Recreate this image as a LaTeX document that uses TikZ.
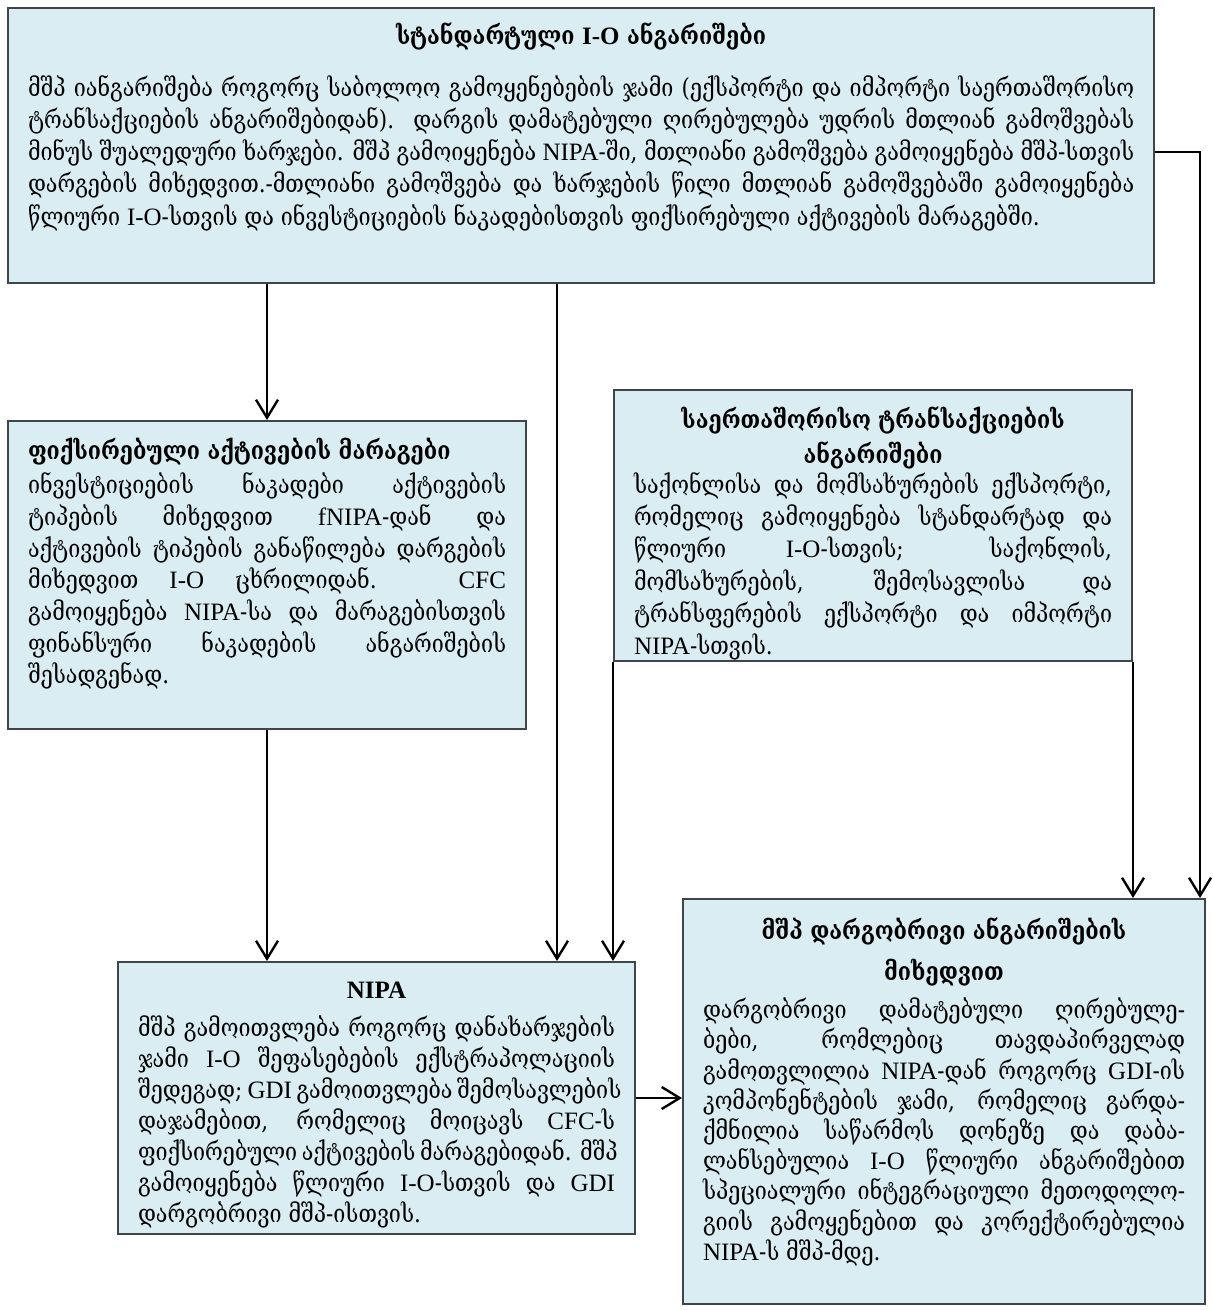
\documentclass[tikz,border=0pt]{standalone}
\usepackage{fontspec}
\newfontfamily\geo[FakeStretch=0.86]{DejaVu Serif}
\newfontfamily\latfont{Liberation Serif}
\newcommand{\lat}[1]{{\latfont #1}}
\newcommand{\fl}[1]{\makebox[\linewidth][s]{\strut #1}\par}
\newcommand{\skipto}[1]{\fontsize{12.5}{#1}\selectfont}
\usetikzlibrary{arrows.meta,calc}
\definecolor{acctfill}{HTML}{DAEDF3}
\definecolor{acctline}{HTML}{3F4549}
\tikzset{
  acct/.style={draw=acctline, fill=acctfill, line width=1pt, anchor=north west,
    inner xsep=10pt, inner ysep=0pt, font=\geo\fontsize{12.5}{15.75}\selectfont},
  flow/.style={-{Straight Barb[length=9pt,width=11pt]}, line width=1.2pt}
}
\begin{document}
\begin{tikzpicture}[x=0.5pt,y=-0.5pt]
\useasboundingbox (0,0) rectangle (1213,1310);
\node[acct] (std) at (7,7) {\parbox[c][137.5pt][t]{553pt}{\vspace*{7pt}%
  {\centering\bfseries\strut სტანდარტული \lat{I-O} ანგარიშები\par}\vspace{10pt}%
  \skipto{16.1}%
  \fl{მშპ იანგარიშება როგორც საბოლოო გამოყენებების ჯამი (ექსპორტი და იმპორტი საერთაშორისო}
  \fl{ტრანსაქციების ანგარიშებიდან). დარგის დამატებული ღირებულება უდრის მთლიან გამოშვებას}
  \fl{მინუს შუალედური ხარჯები. მშპ გამოიყენება \lat{NIPA}-ში, მთლიანი გამოშვება გამოიყენება მშპ-სთვის}
  \fl{დარგების მიხედვით.-მთლიანი გამოშვება და ხარჯების წილი მთლიან გამოშვებაში გამოიყენება}
  \strut წლიური \lat{I-O}-სთვის და ინვესტიციების ნაკადებისთვის ფიქსირებული აქტივების მარაგებში.\par}};
\node[acct] (fixed) at (7,420) {\parbox[c][154pt][t]{239pt}{\vspace*{8pt}%
  {\bfseries\strut ფიქსირებული აქტივების მარაგები\par}\vspace{1.5pt}%
  \skipto{15.85}%
  \fl{ინვესტიციების ნაკადები აქტივების}
  \fl{ტიპების მიხედვით \lat{fNIPA}-დან და}
  \fl{აქტივების ტიპების განაწილება დარგების}
  \fl{მიხედვით \lat{I-O} ცხრილიდან. \lat{CFC}}
  \fl{გამოიყენება \lat{NIPA}-სა და მარაგებისთვის}
  \fl{ფინანსური ნაკადების ანგარიშების}
  \strut შესადგენად.\par}};
\node[acct] (intl) at (613,389) {\parbox[c][135.5pt][t]{239pt}{\vspace*{7pt}%
  {\skipto{17.5}\centering\bfseries\strut საერთაშორისო ტრანსაქციების\\\strut ანგარიშები\par}\vspace{-2.5pt}%
  \skipto{16.1}%
  \fl{საქონლისა და მომსახურების ექსპორტი,}
  \fl{რომელიც გამოიყენება სტანდარტად და}
  \fl{წლიური \lat{I-O}-სთვის; საქონლის,}
  \fl{მომსახურების, შემოსავლისა და}
  \fl{ტრანსფერების ექსპორტი და იმპორტი}
  \strut\lat{NIPA}-სთვის.\par}};
\node[acct] (nipa) at (117,961) {\parbox[c][136pt][t]{238.5pt}{\vspace*{7pt}%
  {\centering\bfseries\strut\lat{NIPA}\par}\vspace{2.5pt}%
  \skipto{15.5}%
  \fl{მშპ გამოითვლება როგორც დანახარჯების}
  \fl{ჯამი \lat{I-O} შეფასებების ექსტრაპოლაციის}
  \fl{შედეგად; \lat{GDI} გამოითვლება შემოსავლების}
  \fl{დაჯამებით, რომელიც მოიცავს \lat{CFC}-ს}
  \fl{ფიქსირებული აქტივების მარაგებიდან. მშპ}
  \fl{გამოიყენება წლიური \lat{I-O}-სთვის და \lat{GDI}}
  \strut დარგობრივი მშპ-ისთვის.\par}};
\node[acct] (ind) at (682,898) {\parbox[c][202.5pt][t]{241pt}{\vspace*{6pt}%
  {\skipto{20.5}\centering\bfseries\strut მშპ დარგობრივი ანგარიშების\\\strut მიხედვით\par}\vspace{1.3pt}%
  \skipto{15.1}%
  \fl{დარგობრივი დამატებული ღირებულე-}
  \fl{ბები, რომლებიც თავდაპირველად}
  \fl{გამოთვლილია \lat{NIPA}-დან როგორც \lat{GDI}-ის}
  \fl{კომპონენტების ჯამი, რომელიც გარდა-}
  \fl{ქმნილია საწარმოს დონეზე და დაბა-}
  \fl{ლანსებულია \lat{I-O} წლიური ანგარიშებით}
  \fl{სპეციალური ინტეგრაციული მეთოდოლო-}
  \fl{გიის გამოყენებით და კორექტირებულია}
  \strut\lat{NIPA}-ს მშპ-მდე.\par}};
\coordinate (tap) at (1200,152);
\coordinate (drop) at (557,300);
\draw[flow] (fixed.north |- std.south) -- (fixed.north);
\draw[flow] (drop |- std.south) -- (drop |- nipa.north);
\draw[flow] (tap -| std.east) -- (tap) -- (tap |- ind.north);
\draw[flow] (fixed.south) -- (fixed.south |- nipa.north);
\draw[flow] (intl.south west) -- (intl.south west |- nipa.north);
\draw[flow] (intl.south east) -- (intl.south east |- ind.north);
\draw[flow] (nipa.east) -- (nipa.east -| ind.west);
\end{tikzpicture}
\end{document}
